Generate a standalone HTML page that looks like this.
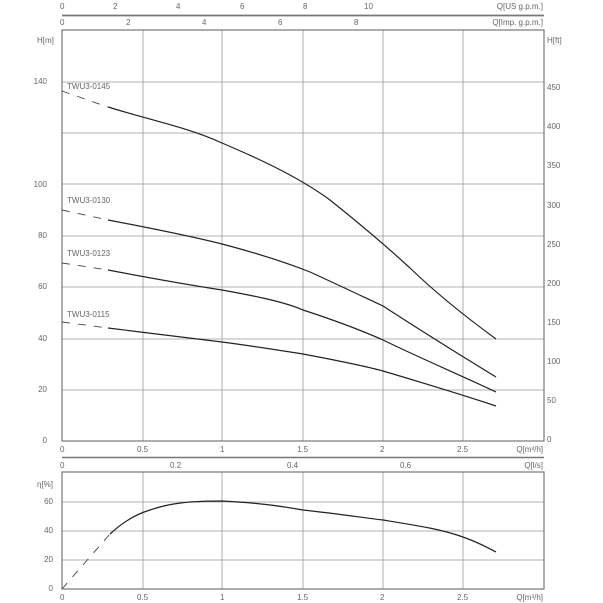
<!DOCTYPE html>
<html><head><style>
html,body{margin:0;padding:0;background:#fff}
svg{display:block}
text{font-family:"Liberation Sans",sans-serif;font-size:8px;fill:#666}
</style></head><body>
<svg width="603" height="603" viewBox="0 0 603 603">
<g stroke="#999" stroke-width="0.8" fill="none">
<!-- upper grid -->
<path d="M143 30V441M222 30V441M303 30V441M383 30V441M463 30V441"/>
<path d="M62 82H544M62 133H544M62 184H544M62 236H544M62 287H544M62 339H544M62 390H544"/>
<!-- lower grid -->
<path d="M143 472V589M222 472V589M303 472V589M383 472V589M463 472V589"/>
<path d="M62 502H544M62 531H544M62 560H544"/>
</g>
<g stroke="#777" stroke-width="1.2" fill="none">
<rect x="62" y="30" width="482" height="411"/>
<rect x="62" y="472" width="482" height="117"/>
<path d="M62 15.5H544" stroke-width="1.8"/>
<path d="M62 457.5H544" stroke-width="1.5"/>
</g>
<!-- top labels -->
<text x="60" y="9">0</text><text x="113" y="9">2</text><text x="176" y="9">4</text><text x="240" y="9">6</text><text x="303" y="9">8</text><text x="364" y="9">10</text>
<text x="543" y="9" text-anchor="end">Q[US g.p.m.]</text>
<text x="60" y="25">0</text><text x="126" y="25">2</text><text x="202" y="25">4</text><text x="278" y="25">6</text><text x="354" y="25">8</text>
<text x="543" y="25" text-anchor="end">Q[Imp. g.p.m.]</text>
<text x="37" y="43">H[m]</text><text x="547" y="43">H[ft]</text>
<g text-anchor="end">
<text x="47" y="84">140</text><text x="47" y="187">100</text><text x="47" y="238">80</text><text x="47" y="289">60</text><text x="47" y="341">40</text><text x="47" y="392">20</text><text x="47" y="443">0</text>
</g>
<text x="547" y="90">450</text><text x="547" y="129">400</text><text x="547" y="168">350</text><text x="547" y="208">300</text><text x="547" y="247">250</text><text x="547" y="286">200</text><text x="547" y="325">150</text><text x="547" y="364">100</text><text x="547" y="403">50</text><text x="547" y="442">0</text>
<!-- bottom upper axis labels -->
<g>
<text x="60" y="452">0</text><text x="137" y="452">0.5</text><text x="220" y="452">1</text><text x="297" y="452">1.5</text><text x="380" y="452">2</text><text x="457" y="452">2.5</text>
<text x="543" y="452" text-anchor="end">Q[m³/h]</text>
<text x="60" y="468">0</text><text x="170" y="468">0.2</text><text x="287" y="468">0.4</text><text x="400" y="468">0.6</text>
<text x="543" y="468" text-anchor="end">Q[l/s]</text>
<text x="37" y="487">η[%]</text>
<g text-anchor="end"><text x="53" y="504">60</text><text x="53" y="533">40</text><text x="53" y="562">20</text><text x="53" y="591">0</text></g>
<text x="60" y="600">0</text><text x="137" y="600">0.5</text><text x="220" y="600">1</text><text x="297" y="600">1.5</text><text x="380" y="600">2</text><text x="457" y="600">2.5</text>
<text x="543" y="600" text-anchor="end">Q[m³/h]</text>
</g>
<!-- curve labels -->
<text x="67" y="89">TWU3-0145</text><text x="67" y="203">TWU3-0130</text><text x="67" y="256">TWU3-0123</text><text x="67" y="317">TWU3-0115</text>
<!-- curves -->
<g stroke="#222" stroke-width="1.2" fill="none">
<path d="M108 107 C150 120 190 128 222 143 C262 160 300 178 330 200 C360 224 385 245 410 268 C440 297 470 320 496 339"/>
<path d="M108 220 C150 228 190 236 222 244 C260 254 290 264 310 272 C345 288 370 300 383 306 C420 330 460 355 496 377"/>
<path d="M108 270 C150 278 190 285 222 290 C255 296 285 302 303 310 C340 322 365 332 383 340 C420 358 460 375 496 392"/>
<path d="M108 328 C150 333 190 338 222 342 C260 347 290 352 303 354 C340 361 365 366 383 371 C420 382 460 394 496 406"/>
<path d="M110 534 C125 520 140 513 150 510 C170 503 190 501 222 501 C260 503 280 506 303 510 C340 514 365 518 383 520 C420 526 440 529 463 537 C480 543 488 548 496 552"/>
</g>
<g stroke="#444" stroke-width="0.9" fill="none" stroke-dasharray="8,8">
<path d="M62 91 L108 107"/>
<path d="M62 210 L108 220"/>
<path d="M62 263 L108 270"/>
<path d="M62 322 L108 328"/>
<path d="M62 589 L110 534"/>
</g>
</svg>
</body></html>
